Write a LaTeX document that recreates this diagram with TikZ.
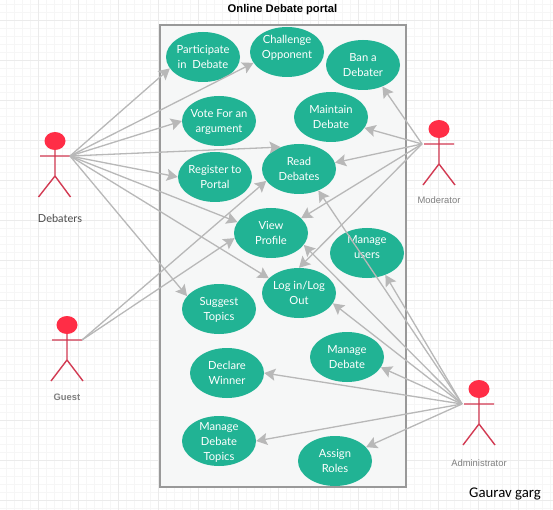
\documentclass[tikz,border=0pt]{standalone}
\usepackage{fontspec}
\setmainfont{Lato}
\newfontfamily\arialfont{Liberation Sans}
\newfontfamily\calfont{Carlito}
\usetikzlibrary{shapes.geometric,arrows.meta}
\definecolor{gridminor}{HTML}{F6F6F6}
\definecolor{gridmajor}{HTML}{EBEBEB}
\definecolor{boxfill}{HTML}{F6F7F7}
\definecolor{boxline}{HTML}{999999}
\definecolor{usefill}{HTML}{21B394}
\definecolor{linkgray}{HTML}{B8B8B8}
\definecolor{headred}{HTML}{FF2D46}
\definecolor{limbred}{HTML}{D23A52}
\newcommand\uselabel[2][-4pt]{\raisebox{#1}[0pt][0pt]{\makebox[0pt][c]{\begin{tabular}{@{}c@{}}#2\end{tabular}}}}
\tikzset{
  usecase/.style={ellipse,fill=usefill,text=white,minimum width=74pt,minimum height=50pt,inner sep=0pt,font=\fontsize{11.2}{15}\selectfont},
  link/.style={draw=linkgray,line width=1.3pt,-{Stealth[length=11pt,width=12pt,inset=2pt]}},
  acthead/.style={ellipse,fill=headred,minimum width=21pt,minimum height=18pt,inner sep=0pt},
  limb/.style={draw=limbred,line width=1.4pt},
  actlabel/.style={font=\arialfont\fontsize{9.4}{11}\selectfont,text=black!50}
}
\begin{document}
\begin{tikzpicture}[x=1pt,y=-1pt]
\useasboundingbox (0,0) rectangle (553,510);
\fill[white] (0,0) rectangle (553,510);
% grid
\foreach \gx in {6,14,...,550} \draw[gridminor,line width=0.6pt] (\gx,0) -- (\gx,510);
\foreach \gy in {4,12,...,508} \draw[gridminor,line width=0.6pt] (0,\gy) -- (553,\gy);
\foreach \gx in {38,78,...,550} \draw[gridmajor,line width=0.6pt] (\gx,0) -- (\gx,510);
\foreach \gy in {20,60,...,508} \draw[gridmajor,line width=0.6pt] (0,\gy) -- (553,\gy);
% system box
\node[font=\arialfont\bfseries\fontsize{11.2}{12}\selectfont,text=black] (title) at (282.5,10) {Online Debate portal};
\draw[boxline,fill=boxfill,line width=2pt] (160,25) rectangle (406,487);
% use cases
\node[usecase] (part) at (203,57) {\uselabel{Participate\\in\ \ Debate}};
\node[usecase] (chal) at (287,52) {\uselabel[1pt]{Challenge\\Opponent}};
\node[usecase] (ban) at (363,65) {\uselabel{Ban a\\Debater}};
\node[usecase] (main) at (331,117) {\uselabel{Maintain\\Debate}};
\node[usecase] (vote) at (219,121) {\uselabel{Vote For an\\argument}};
\node[usecase] (regi) at (215,177) {\uselabel{Register to\\Portal}};
\node[usecase] (read) at (299,169) {\uselabel{Read\\Debates}};
\node[usecase] (view) at (271,233) {\uselabel{View\\Profile}};
\node[usecase] (musr) at (367,253) {\uselabel[2pt]{Manage\\users}};
\node[usecase] (logi) at (299,293) {\uselabel{Log in/Log\\Out}};
\node[usecase] (sugg) at (219,309) {\uselabel{Suggest\\Topics}};
\node[usecase] (mdeb) at (347,357) {\uselabel{Manage\\Debate}};
\node[usecase] (decl) at (227,373) {\uselabel{Declare\\Winner}};
\node[usecase] (mtop) at (219,441) {\uselabel{Manage\\Debate\\Topics}};
\node[usecase] (assi) at (335,461) {\uselabel{Assign\\Roles}};
% actors
\node[acthead] (hdeb) at (55,141) {};
\draw[limb] (hdeb.south) -- (55,176) (40,156) -- (70,156) (38.5,197) -- (55,176) -- (70.5,197);
\coordinate (cdeb) at (70,156);
\node[font=\fontsize{11}{14}\selectfont,text=black!70] (ldeb) at (60,218) {Debaters};
\node[acthead] (hmod) at (439,129) {};
\draw[limb] (hmod.south) -- (439,164) (424,144) -- (454,144) (423,185) -- (439,164) -- (455,185);
\coordinate (cmod) at (422,144);
\node[actlabel] (lmod) at (439,200) {Moderator};
\node[acthead] (hgue) at (67,325) {};
\draw[limb] (hgue.south) -- (67,360) (52,340) -- (82,340) (51,381) -- (67,360) -- (83,381);
\coordinate (cgue) at (82,340);
\node[actlabel,font=\arialfont\fontsize{9.4}{11}\selectfont\bfseries,text=black!50] (lgue) at (67,397) {Guest};
\node[acthead] (hadm) at (479,389) {};
\draw[limb] (hadm.south) -- (479,424) (464,404) -- (494,404) (463,445) -- (479,424) -- (495,445);
\coordinate (cadm) at (462,404);
\node[actlabel] (ladm) at (479,463) {Administrator};
\node[font=\calfont\fontsize{14.8}{16}\selectfont,text=black] (auth) at (505,494) {Gaurav garg};
% connectors
\draw[link] (cdeb) -- (part.199);
\draw[link] (cdeb) -- (chal.198);
\draw[link] (cdeb) -- (vote.180);
\draw[link] (cdeb) -- (read.130);
\draw[link] (cdeb) -- (regi.180);
\draw[link] (cdeb) -- (view.162);
\draw[link] (cdeb) -- (logi.154);
\draw[link] (cdeb) -- (sugg.158);
\draw[link] (cgue) -- (read.200);
\draw[link] (cgue) -- (view.188);
\draw[link] (cmod) -- (ban.-48);
\draw[link] (cmod) -- (main.-18);
\draw[link] (cmod) -- (read.10);
\draw[link] (cmod) -- (view.26);
\draw[link] (cmod) -- (logi.90);
\draw[link] (cadm) -- (read.-48);
\draw[link] (cadm) -- (view.-20);
\draw[link] (cadm) -- (musr.-50);
\draw[link] (cadm) -- (logi.-17);
\draw[link] (cadm) -- (mdeb.-17);
\draw[link] (cadm) -- (decl.0);
\draw[link] (cadm) -- (mtop.0);
\draw[link] (cadm) -- (assi.24);
\end{tikzpicture}
\end{document}
